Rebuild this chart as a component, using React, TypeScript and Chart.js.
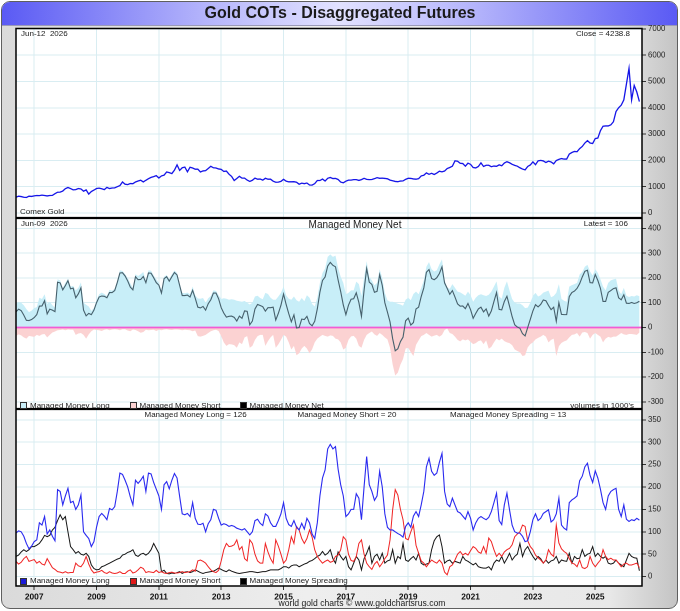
import React, { useEffect, useRef } from 'react';
import { Chart, registerables } from 'chart.js';

Chart.register(...registerables);

// Monthly samples, index 0 = Jun 2006 ... index 240 = Jun 2026
const GOLD_CLOSE = [
  600, 640, 625, 600, 590, 640, 630,
  650, 665, 660, 680, 665, 650, 665, 670, 735, 790, 795, 835,
  925, 970, 930, 880, 890, 930, 915, 830, 880, 720, 815, 870,
  930, 945, 920, 890, 975, 930, 950, 955, 1000, 1040, 1180, 1095,
  1080, 1120, 1115, 1180, 1215, 1245, 1180, 1245, 1305, 1355, 1385, 1420,
  1330, 1410, 1440, 1560, 1535, 1500, 1630, 1830, 1620, 1720, 1745, 1565,
  1740, 1710, 1665, 1665, 1560, 1600, 1610, 1690, 1775, 1720, 1710, 1675,
  1660, 1580, 1595, 1475, 1390, 1235, 1310, 1395, 1325, 1325, 1250, 1200,
  1245, 1325, 1285, 1290, 1250, 1320, 1285, 1285, 1210, 1170, 1175, 1200,
  1280, 1210, 1185, 1185, 1190, 1170, 1095, 1135, 1115, 1140, 1065, 1060,
  1115, 1235, 1235, 1290, 1215, 1320, 1350, 1310, 1315, 1275, 1175, 1150,
  1210, 1250, 1250, 1270, 1270, 1240, 1270, 1320, 1280, 1270, 1275, 1305,
  1345, 1320, 1325, 1315, 1300, 1250, 1225, 1200, 1190, 1215, 1220, 1280,
  1320, 1315, 1295, 1285, 1305, 1410, 1435, 1525, 1470, 1510, 1465, 1520,
  1590, 1565, 1595, 1690, 1730, 1780, 1985, 1970, 1890, 1880, 1780, 1895,
  1850, 1730, 1715, 1770, 1905, 1770, 1815, 1815, 1760, 1785, 1775, 1830,
  1795, 1900, 1950, 1910, 1850, 1810, 1780, 1720, 1670, 1640, 1770, 1825,
  1945, 1835, 1985, 2000, 1980, 1920, 1970, 1940, 1870, 1995, 2040, 2070,
  2050, 2050, 2240, 2300, 2340, 2330, 2450, 2530, 2660, 2750, 2660, 2640,
  2830, 2850, 3130, 3300, 3310, 3310, 3350, 3470, 3860, 4000, 4100, 4300,
  4900, 5500, 4300, 4850, 4600, 4238.8,
];

const MM_LONG = [
  97, 102, 100, 90, 74, 62, 68,
  78, 82, 120, 115, 134, 95, 104, 90, 80, 194, 190, 160,
  180, 197, 165, 168, 150, 160, 182, 100, 92, 85, 67, 78,
  110, 134, 141, 135, 127, 152, 149, 156, 190, 231, 228, 215,
  200, 178, 160, 215, 208, 215, 224, 190, 231, 229, 210, 195,
  180, 150, 205, 212, 196, 215, 230, 220, 179, 140, 138, 141,
  134, 165, 130, 117, 116, 119, 100, 118, 127, 150, 148, 130,
  115, 118, 116, 112, 114, 112, 108, 106, 104, 107, 100, 93,
  100, 125, 128, 119, 114, 140, 135, 120, 112, 112, 125, 140,
  165, 130, 116, 112, 125, 110, 104, 119, 106, 130, 120, 95,
  85, 120, 180, 220, 238, 285, 295, 285, 290, 240, 205, 180,
  134, 140, 150, 150, 185, 175, 127, 200, 268, 205, 190, 170,
  180, 235, 200, 140, 110, 104, 104, 100, 96, 93, 88, 112,
  120, 110, 135, 145, 134, 160, 190, 245, 264, 235, 226, 231,
  255, 275, 190, 162, 156, 175, 160, 145, 142, 135, 128, 145,
  130, 104, 120, 130, 134, 130, 127, 132, 145, 165, 186, 125,
  116, 160, 186, 149, 115, 100, 97, 97, 90, 78, 80, 100,
  127, 140, 125, 130, 141, 145, 149, 122, 127, 140, 175, 115,
  108, 104, 165, 171, 175, 180, 214, 224, 245, 253, 226, 210,
  236, 220, 195, 165, 150, 180, 190, 194, 197, 150, 134, 160,
  128, 123, 127, 125, 130, 126,
];

const MM_SHORT = [
  34, 28, 32, 40, 45, 34, 36,
  38, 30, 34, 28, 26, 40, 30, 20, 16, 11, 10, 8,
  11, 8, 9, 9, 30, 24, 22, 30, 45, 28, 15, 8,
  10, 11, 14, 9, 7, 11, 8, 7, 8, 11, 7, 7,
  12, 15, 8, 10, 15, 21, 18, 9, 11, 10, 9, 14,
  9, 11, 8, 7, 9, 10, 8, 8, 9, 11, 9, 10,
  11, 15, 12, 35, 37, 34, 30, 22, 15, 11, 9, 14,
  35, 60, 74, 67, 68, 71, 82, 60, 67, 40, 35, 82,
  74, 50, 35, 30, 30, 74, 55, 40, 30, 82, 68, 50,
  30, 37, 60, 89, 74, 112, 104, 85, 74, 85, 104, 88,
  60, 45, 37, 30, 34, 37, 32, 34, 45, 48, 60, 89,
  82, 50, 36, 34, 45, 74, 82, 50, 30, 22, 16, 28,
  34, 22, 30, 40, 48, 82, 149, 194, 182, 150, 127, 85,
  82, 100, 115, 70, 52, 35, 30, 22, 30, 37, 33, 30,
  37, 30, 10, 4, 22, 26, 37, 50, 56, 48, 52, 48,
  58, 67, 63, 55, 52, 67, 52, 86, 78, 60, 45, 52,
  45, 55, 60, 63, 71, 89, 95, 100, 115, 112, 80, 67,
  60, 48, 42, 37, 30, 37, 60, 50, 45, 115, 75, 62,
  56, 52, 40, 30, 28, 22, 37, 20, 18, 22, 45, 30,
  22, 30, 37, 60, 45, 38, 41, 37, 37, 30, 22, 28,
  30, 26, 26, 28, 30, 20,
];

const MM_SPREADING = [
  45, 48, 55, 60, 56, 60, 67,
  67, 70, 74, 82, 92, 89, 92, 104, 110, 125, 138, 127,
  134, 100, 67, 60, 52, 56, 50, 48, 52, 45, 26, 18,
  15, 16, 22, 24, 27, 30, 33, 36, 39, 41, 48, 50,
  54, 56, 60, 48, 45, 50, 52, 48, 52, 60, 74, 63,
  52, 11, 14, 7, 6, 8, 7, 9, 11, 7, 10, 11,
  9, 11, 15, 12, 9, 7, 9, 10, 11, 12, 15, 19,
  16, 13, 11, 15, 12, 10, 8, 7, 8, 9, 10, 11,
  11, 10, 9, 10, 11, 11, 13, 15, 15, 15, 15, 18,
  22, 22, 19, 24, 26, 26, 22, 25, 28, 30, 34, 36,
  40, 45, 48, 56, 48, 52, 60, 40, 30, 55, 45, 37,
  45, 22, 15, 30, 45, 37, 15, 40, 52, 67, 30, 45,
  50, 37, 52, 30, 35, 37, 60, 30, 45, 40, 74, 37,
  34, 40, 45, 37, 52, 30, 26, 28, 30, 60, 80, 89,
  93, 67, 30, 35, 37, 30, 34, 32, 30, 45, 37, 34,
  30, 26, 30, 22, 20, 19, 19, 22, 15, 30, 37, 34,
  45, 30, 40, 52, 37, 45, 50, 74, 45, 60, 67, 55,
  45, 37, 45, 40, 30, 37, 30, 35, 37, 45, 30, 37,
  35, 34, 52, 30, 45, 40, 41, 60, 45, 50, 52, 67,
  45, 52, 45, 41, 45, 30, 28, 30, 37, 30, 26, 22,
  37, 52, 45, 42, 41, 13,
];

const YEAR_LABELS = ['2007', '2009', '2011', '2013', '2015', '2017', '2019', '2021', '2023', '2025'];
const YEAR_TICK_INDEX = [7, 31, 55, 79, 103, 127, 151, 175, 199, 223];
const PRICE_TICKS = [0, 1000, 2000, 3000, 4000, 5000, 6000, 7000];
const NET_TICKS = [-300, -200, -100, 0, 100, 200, 300, 400];
const COT_TICKS = [0, 50, 100, 150, 200, 250, 300, 350];

const FONT = "'Liberation Sans', Arial, sans-serif";
const GRID = '#d9edf2';

const pts = (arr: number[]) => arr.map((v, i) => ({ x: i, y: v }));

const frame = {
  id: 'panelFrame',
  beforeDraw(chart: any) {
    const { ctx, chartArea: a } = chart;
    ctx.save();
    ctx.fillStyle = '#ffffff';
    ctx.fillRect(a.left, a.top, a.right - a.left, a.bottom - a.top);
    ctx.restore();
  },
  beforeDatasetDraw(chart: any, args: any) {
    if (args.index !== 3) return;
    const { ctx, chartArea: a } = chart;
    const y = chart.scales.yNet.getPixelForValue(0);
    ctx.save();
    ctx.strokeStyle = '#f25bd3';
    ctx.lineWidth = 1.8;
    ctx.beginPath();
    ctx.moveTo(a.left, y);
    ctx.lineTo(a.right, y);
    ctx.stroke();
    ctx.restore();
  },
  afterDraw(chart: any) {
    const { ctx, chartArea: a } = chart;
    ctx.save();
    ctx.strokeStyle = '#000';
    ctx.lineWidth = 1.5;
    ctx.strokeRect(a.left, a.top, a.right - a.left, a.bottom - a.top);
    ctx.lineWidth = 2.2;
    [chart.scales.yNet.top, chart.scales.yCot.top].forEach((y: number) => {
      ctx.beginPath();
      ctx.moveTo(a.left, y);
      ctx.lineTo(a.right, y);
      ctx.stroke();
    });
    ctx.restore();
  },
};

const yAxis = (ticks: number[], min: number, max: number, weight: number) => ({
  type: 'linear',
  position: 'right',
  stack: 'panels',
  stackWeight: weight,
  min,
  max,
  afterBuildTicks: (s: any) => {
    s.ticks = ticks.map((v) => ({ value: v }));
  },
  afterFit: (s: any) => {
    s.width = 38;
  },
  ticks: {
    font: { family: FONT, size: 7.8 },
    color: '#222',
    padding: 2,
    autoSkip: false,
    callback: (v: any) => String(v),
  },
  grid: { color: GRID, tickColor: '#333', tickLength: 4, lineWidth: 1 },
  border: { display: false },
});

function Txt(props: { x: number; y: number; text: string; size?: number; align?: 'left' | 'center' | 'right'; bold?: boolean }) {
  const { x, y, text, size = 8, align = 'left', bold = false } = props;
  const lh = size * 1.25;
  const style: any = {
    position: 'absolute',
    top: y - lh / 2,
    fontFamily: FONT,
    fontSize: size,
    lineHeight: `${lh}px`,
    fontWeight: bold ? 'bold' : 'normal',
    color: '#1a1a1a',
    whiteSpace: 'pre',
  };
  if (align === 'left') style.left = x;
  else if (align === 'right') style.right = 680 - x;
  else {
    style.left = x;
    style.transform = 'translateX(-50%)';
  }
  return <div style={style}>{text}</div>;
}

function Key(props: { x: number; y: number; color: string; text: string; textX: number }) {
  return (
    <>
      <div
        style={{
          position: 'absolute',
          left: props.x,
          top: props.y - 3.5,
          width: 5,
          height: 5,
          border: '1px solid #333',
          background: props.color,
        }}
      />
      <Txt x={props.textX} y={props.y} text={props.text} />
    </>
  );
}

export default function App() {
  const ref = useRef<HTMLCanvasElement | null>(null);

  useEffect(() => {
    if (!ref.current) return;
    const net = MM_LONG.map((v, i) => v - MM_SHORT[i]);
    const negShort = MM_SHORT.map((v) => -v);
    const line = { pointRadius: 0, tension: 0, fill: false };
    const chart = new Chart(ref.current, {
      type: 'line',
      data: {
        datasets: [
          { ...line, label: 'Comex Gold', data: pts(GOLD_CLOSE), yAxisID: 'yPrice', borderColor: '#1515e8', borderWidth: 1.3, order: 1 },
          { ...line, label: 'Managed Money Long', data: pts(MM_LONG), yAxisID: 'yNet', borderWidth: 0, borderColor: 'rgba(0,0,0,0)', backgroundColor: '#c8eef8', fill: 'origin', order: 6 },
          { ...line, label: 'Managed Money Short', data: pts(negShort), yAxisID: 'yNet', borderWidth: 0, borderColor: 'rgba(0,0,0,0)', backgroundColor: '#fbd2d2', fill: 'origin', order: 7 },
          { ...line, label: 'Managed Money Net', data: pts(net), yAxisID: 'yNet', borderColor: '#46606c', borderWidth: 1.1, order: 2 },
          { ...line, label: 'Managed Money Long', data: pts(MM_LONG), yAxisID: 'yCot', borderColor: '#2a2af0', borderWidth: 1.1, order: 3 },
          { ...line, label: 'Managed Money Short', data: pts(MM_SHORT), yAxisID: 'yCot', borderColor: '#f02424', borderWidth: 1, order: 4 },
          { ...line, label: 'Managed Money Spreading', data: pts(MM_SPREADING), yAxisID: 'yCot', borderColor: '#151515', borderWidth: 1, order: 5 },
        ],
      },
      options: {
        animation: false,
        responsive: false,
        devicePixelRatio: 2,
        layout: { padding: { left: 16, top: 28.5, right: 0, bottom: 0 } },
        plugins: { legend: { display: false }, tooltip: { enabled: false }, title: { display: false } },
        scales: {
          x: {
            type: 'linear',
            min: 0,
            max: 241,
            afterBuildTicks: (s: any) => {
              s.ticks = YEAR_TICK_INDEX.map((v) => ({ value: v }));
            },
            afterFit: (s: any) => {
              s.height = 25;
            },
            ticks: {
              callback: (v: any) => {
                const k = YEAR_TICK_INDEX.indexOf(Number(v));
                return k >= 0 ? YEAR_LABELS[k] : '';
              },
              font: { family: FONT, size: 8.4, weight: 'bold' },
              color: '#111',
              maxRotation: 0,
              autoSkip: false,
              padding: 2,
            },
            grid: { color: GRID, tickColor: '#333', tickLength: 4, lineWidth: 1 },
            border: { display: false },
          },
          yPrice: yAxis(PRICE_TICKS, -190, 7015, 189.5),
          yNet: yAxis(NET_TICKS, -329, 442, 191),
          yCot: yAxis(COT_TICKS, -21, 374, 177),
        } as any,
      },
      plugins: [frame],
    } as any);
    return () => chart.destroy();
  }, []);

  return (
    <div style={{ position: 'absolute', left: 0, top: 0, width: 680, height: 611, overflow: 'hidden', background: '#fff' }}>
      <div
        style={{
          position: 'absolute',
          left: 1,
          top: 1,
          width: 677,
          height: 608,
          boxSizing: 'border-box',
          border: '1.5px solid #5f5f5f',
          borderRadius: 9,
          overflow: 'hidden',
          background: 'linear-gradient(to right, #dadada 0%, #eeeeee 45%, #e8e8e8 90%, #c4c4c4 100%)',
        }}
      >
        <div
          style={{
            position: 'absolute',
            left: 0,
            top: 0,
            right: 0,
            height: 23,
            borderBottom: '1px solid #9a9ab8',
            background: 'linear-gradient(to right, #5a5af4 0%, #b4b4fb 30%, #e2e2ff 50%, #b4b4fb 70%, #5a5af4 100%)',
          }}
        />
      </div>
      <canvas ref={ref} width={680} height={611} style={{ position: 'absolute', left: 0, top: 0, width: 680, height: 611 }} />
      <Txt x={340} y={13} text="Gold COTs - Disaggregated Futures" size={16} align="center" bold />

      <Txt x={21} y={34} text="Jun-12  2026" />
      <Txt x={630} y={34} text="Close = 4238.8" align="right" />
      <Txt x={20} y={212} text="Comex Gold" />

      <Txt x={21} y={224} text="Jun-09  2026" />
      <Txt x={355} y={225} text="Managed Money Net" size={10} align="center" />
      <Txt x={628} y={224} text="Latest = 106" align="right" />
      <Key x={20} y={405.5} color="#c8eef8" text="Managed Money Long" textX={30} />
      <Key x={130} y={405.5} color="#fbd2d2" text="Managed Money Short" textX={139.5} />
      <Key x={240} y={405.5} color="#000000" text="Managed Money Net" textX={249.5} />
      <Txt x={634} y={405.5} text="volumes in 1000's" align="right" />

      <Txt x={144.5} y={415} text="Managed Money Long = 126" />
      <Txt x={297.5} y={415} text="Managed Money Short = 20" />
      <Txt x={450} y={415} text="Managed Money Spreading = 13" />
      <Key x={20} y={581} color="#1a1ad8" text="Managed Money Long" textX={30} />
      <Key x={130} y={581} color="#e01818" text="Managed Money Short" textX={139.5} />
      <Key x={240} y={581} color="#000000" text="Managed Money Spreading" textX={249.5} />

      <Txt x={362} y={603} text="world gold charts © www.goldchartsrus.com" size={8.6} align="center" />
    </div>
  );
}
